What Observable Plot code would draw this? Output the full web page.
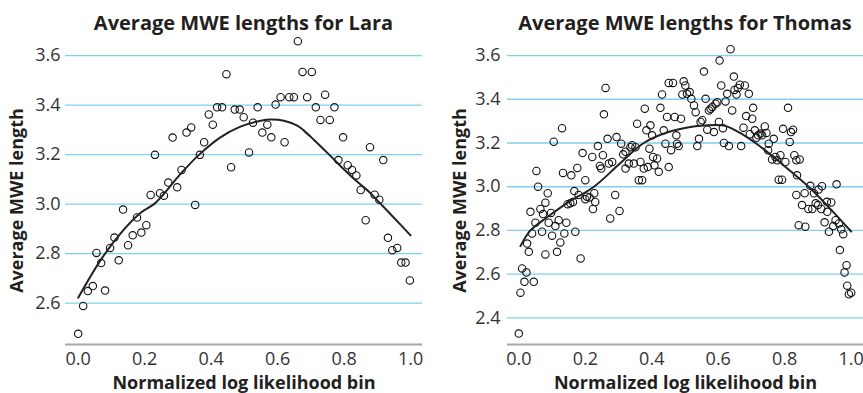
<!DOCTYPE html>
<html><head><meta charset="utf-8">
<script src="https://cdn.jsdelivr.net/npm/d3@7"></script>
<script src="https://cdn.jsdelivr.net/npm/@observablehq/plot@0.6"></script>
<style>
body{margin:0;background:#fff;font-family:"Open Sans",sans-serif;}
#wrap{display:flex;width:863px;height:393px;overflow:hidden;}
.panel{position:relative;flex:none;}
.title{height:34px;box-sizing:border-box;padding-top:11px;line-height:24px;font-weight:700;font-size:20px;color:#231f20;white-space:nowrap;text-align:center;font-family:"Open Sans",sans-serif;}
</style></head><body><div id="wrap"></div>
<script>
const titles = ["Average MWE lengths for Lara", "Average MWE lengths for Thomas"];
const xLabel = "Normalized log likelihood bin";
const yLabel = "Average MWE length";
const xTicks = [0, 0.2, 0.4, 0.6, 0.8, 1.0];
const laraYTicks = [2.6, 2.8, 3.0, 3.2, 3.4, 3.6];
const thomasYTicks = [2.4, 2.6, 2.8, 3.0, 3.2, 3.4, 3.6];

const laraPoints = [
[0.0,2.476],[0.015,2.589],[0.029,2.649],[0.044,2.669],[0.055,2.803],[0.069,2.762],[0.081,2.651],[0.096,2.823],
[0.109,2.865],[0.122,2.773],[0.135,2.978],[0.15,2.834],[0.164,2.874],[0.177,2.946],[0.19,2.885],[0.205,2.915],
[0.218,3.037],[0.231,3.199],[0.246,3.044],[0.258,3.034],[0.271,3.087],[0.284,3.269],[0.298,3.068],[0.311,3.138],
[0.326,3.289],[0.34,3.31],[0.352,2.997],[0.366,3.199],[0.379,3.25],[0.393,3.362],[0.405,3.321],[0.418,3.391],
[0.433,3.391],[0.446,3.525],[0.46,3.149],[0.471,3.382],[0.486,3.382],[0.498,3.351],[0.514,3.209],[0.526,3.329],
[0.54,3.391],[0.554,3.289],[0.569,3.321],[0.581,3.27],[0.594,3.402],[0.609,3.432],[0.621,3.25],[0.635,3.432],
[0.649,3.432],[0.661,3.658],[0.675,3.534],[0.689,3.432],[0.703,3.534],[0.715,3.391],[0.729,3.34],[0.743,3.442],
[0.757,3.34],[0.771,3.391],[0.783,3.178],[0.797,3.27],[0.811,3.157],[0.824,3.138],[0.837,3.116],[0.85,3.057],
[0.865,2.935],[0.878,3.23],[0.892,3.038],[0.906,3.018],[0.918,3.178],[0.932,2.864],[0.945,2.814],[0.96,2.823],
[0.972,2.764],[0.985,2.764],[0.998,2.692]
];
const laraFit = [
[0.0,2.622],[0.067,2.773],[0.127,2.881],[0.188,2.965],[0.228,3.0],[0.26,3.045],[0.308,3.122],[0.368,3.205],
[0.428,3.27],[0.488,3.313],[0.549,3.337],[0.58,3.342],[0.619,3.337],[0.659,3.317],[0.68,3.296],[0.709,3.26],
[0.755,3.2],[0.8,3.14],[0.84,3.09],[0.875,3.05],[0.9,3.015],[0.95,2.945],[1.0,2.874]
];

const thomasPoints = [
[0.053,3.072],[0.058,3.0],[0.087,2.97],[0.105,3.206],[0.13,3.268],[0.133,3.063],[0.158,3.052],[0.167,2.98],
[0.176,3.086],[0.192,3.154],[0.2,3.03],[0.221,3.136],[0.238,3.186],[0.244,3.095],[0.253,3.144],[0.248,3.083],
[0.256,3.331],[0.261,3.452],[0.267,3.219],[0.271,3.106],[0.281,3.113],[0.294,3.227],[0.308,3.197],[0.314,3.148],
[0.321,3.083],[0.321,3.16],[0.331,3.106],[0.336,3.181],[0.341,3.19],[0.346,3.106],[0.351,3.181],[0.356,3.288],
[0.361,3.03],[0.371,3.03],[0.366,3.113],[0.376,3.083],[0.379,3.357],[0.384,3.258],[0.388,3.09],[0.393,3.174],
[0.396,3.281],[0.401,3.235],[0.404,3.136],[0.408,3.098],[0.416,3.129],[0.421,3.068],[0.426,3.361],[0.431,3.422],
[0.436,3.258],[0.441,3.197],[0.446,3.319],[0.451,3.09],[0.451,3.475],[0.464,3.475],[0.458,3.167],[0.469,3.319],
[0.474,3.235],[0.476,3.197],[0.481,3.186],[0.488,3.311],[0.492,3.422],[0.496,3.482],[0.501,3.463],[0.506,3.425],
[0.514,3.433],[0.519,3.402],[0.527,3.372],[0.532,3.341],[0.537,3.186],[0.542,3.219],[0.547,3.296],[0.552,3.304],
[0.557,3.527],[0.562,3.402],[0.567,3.261],[0.572,3.349],[0.577,3.357],[0.582,3.365],[0.587,3.25],[0.592,3.38],
[0.597,3.387],[0.602,3.296],[0.604,3.577],[0.609,3.463],[0.614,3.268],[0.617,3.2],[0.622,3.39],[0.627,3.425],
[0.632,3.186],[0.637,3.629],[0.642,3.349],[0.647,3.504],[0.649,3.443],[0.655,3.422],[0.659,3.452],[0.665,3.467],
[0.669,3.186],[0.676,3.27],[0.68,3.463],[0.684,3.323],[0.692,3.425],[0.695,3.24],[0.702,3.311],[0.705,3.361],
[0.71,3.258],[0.715,3.224],[0.72,3.235],[0.727,3.243],[0.732,3.235],[0.74,3.276],[0.745,3.246],[0.752,3.197],
[0.75,3.167],[0.762,3.125],[0.767,3.219],[0.772,3.136],[0.777,3.121],[0.782,3.032],[0.792,3.032],[0.787,3.144],
[0.795,3.265],[0.802,3.113],[0.81,3.361],[0.815,3.205],[0.819,3.25],[0.825,3.261],[0.829,3.144],[0.835,3.121],
[0.845,3.125],[0.837,3.052],[0.877,3.004],[0.912,3.002],[0.902,2.987],[0.956,3.011],
[0.0,2.328],[0.005,2.515],[0.01,2.626],[0.023,2.608],[0.017,2.565],[0.045,2.565],[0.025,2.74],[0.03,2.702],
[0.04,2.786],[0.035,2.885],[0.05,2.835],[0.065,2.898],[0.07,2.794],[0.073,2.875],[0.08,2.69],[0.08,2.927],
[0.09,2.835],[0.097,2.88],[0.1,2.776],[0.11,2.82],[0.115,2.702],[0.12,2.847],[0.125,2.745],[0.137,2.786],
[0.143,2.835],[0.147,2.92],[0.155,2.924],[0.163,2.93],[0.17,2.794],[0.186,2.672],[0.18,2.962],[0.2,2.943],
[0.205,2.954],[0.213,2.951],[0.223,2.898],[0.23,2.93],[0.227,2.97],[0.275,2.855],[0.29,2.962],[0.303,2.889],
[0.835,2.962],[0.842,2.824],[0.852,2.916],[0.862,2.817],[0.86,2.97],[0.871,2.898],[0.883,2.898],[0.888,2.97],
[0.893,2.924],[0.9,2.916],[0.91,2.898],[0.92,2.837],[0.927,2.931],[0.928,2.885],[0.933,2.794],[0.94,2.928],
[0.946,2.82],[0.953,2.847],[0.963,2.832],[0.97,2.805],[0.976,2.783],[0.966,2.71],[0.986,2.641],[0.98,2.608],
[0.988,2.547],[0.993,2.508],[1.0,2.515]
];
const thomasFit = [
[0.005,2.728],[0.035,2.8],[0.085,2.86],[0.145,2.925],[0.226,3.0],[0.3,3.1],[0.376,3.2],[0.45,3.25],
[0.516,3.273],[0.557,3.28],[0.617,3.28],[0.657,3.253],[0.712,3.2],[0.79,3.106],[0.872,3.0],[0.93,2.91],[1.0,2.795]
];

const gridColor = "#7fd0f0";
const toRows = arr => arr.map(([x, y]) => ({x, y}));

function panel({title, points, fit, width, mL, mR, xDom, yDom, yTicks, yPad, yLabelDx}) {
  const div = document.createElement("div");
  div.className = "panel";
  div.style.width = width + "px";
  const t = document.createElement("div");
  t.className = "title";
  t.style.paddingLeft = mL + "px";
  t.style.paddingRight = mR + "px";
  t.textContent = title;
  div.appendChild(t);
  const fmt = d3.format(".1f");
  const plot = Plot.plot({
    width, height: 359,
    marginLeft: mL, marginRight: mR, marginTop: 6, marginBottom: 49,
    style: {fontFamily: "Open Sans", fontSize: "18px", color: "#333", background: "transparent", overflow: "visible"},
    x: {domain: xDom},
    y: {domain: yDom},
    marks: [
      Plot.gridY(yTicks, {stroke: gridColor, strokeOpacity: 1, strokeWidth: 1.4}),
      Plot.axisY(yTicks, {tickSize: 0, tickPadding: yPad, tickFormat: fmt, label: null, fontSize: 18, fill: "#333"}),
      Plot.axisX(xTicks, {tickSize: 0, tickPadding: 8, tickFormat: fmt, label: null, fontSize: 18, fill: "#333"}),
      Plot.ruleY([yDom[0]], {stroke: "#a8a8a8", strokeWidth: 2}),
      Plot.dot(toRows(points), {x: "x", y: "y", r: 3.7, stroke: "#111", strokeWidth: 1.1, fill: "none"}),
      Plot.line(toRows(fit), {x: "x", y: "y", curve: "catmull-rom", stroke: "#222", strokeWidth: 2}),
      Plot.text([xLabel], {text: d => d, frameAnchor: "bottom", dy: 39, lineAnchor: "middle", fontWeight: 700, fontSize: 18, fill: "#231f20"}),
      Plot.text([yLabel], {text: d => d, frameAnchor: "left", dx: yLabelDx, dy: 8, rotate: -90, lineAnchor: "middle", textAnchor: "middle", fontWeight: 700, fontSize: 18, fill: "#231f20"})
    ]
  });
  div.appendChild(plot);
  document.getElementById("wrap").appendChild(div);
}

panel({title: titles[0], points: laraPoints, fit: laraFit, width: 431, mL: 65, mR: 9,
  xDom: [-0.0382, 1.036], yDom: [2.433, 3.661], yTicks: laraYTicks, yPad: 5, yLabelDx: -48});
panel({title: titles[1], points: thomasPoints, fit: thomasFit, width: 432, mL: 76, mR: 0,
  xDom: [-0.034, 1.037], yDom: [2.278, 3.669], yTicks: thomasYTicks, yPad: 7, yLabelDx: -47});
</script></body></html>
